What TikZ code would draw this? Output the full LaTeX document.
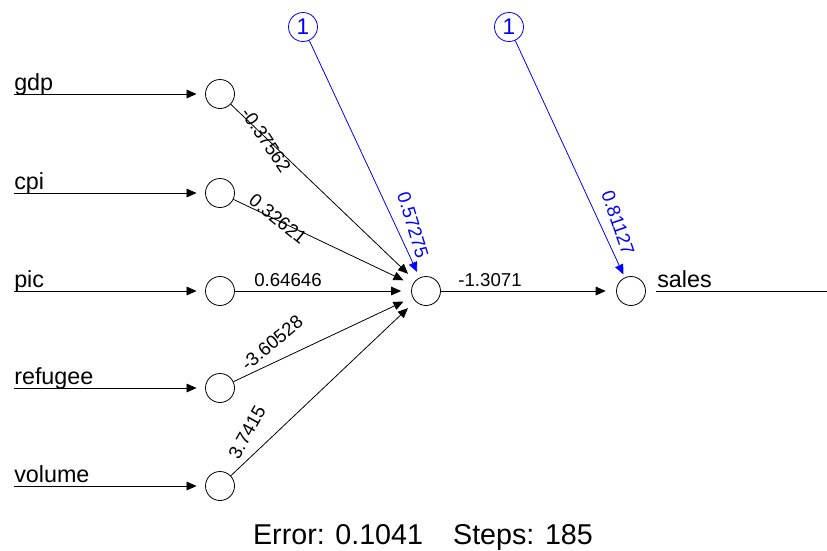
\documentclass[tikz,border=0pt]{standalone}
\usepackage{fontspec}
\setmainfont{Liberation Sans}
\usetikzlibrary{arrows.meta}
\definecolor{rblue}{RGB}{0,0,255}
\begin{document}
\begin{tikzpicture}[x=0.75pt,y=-0.75pt,
  neuron/.style={circle,draw=black,line width=0.6pt,minimum size=21.75pt,inner sep=0pt},
  biasnode/.style={circle,draw=rblue,line width=0.6pt,minimum size=21.75pt,inner sep=0pt,text=rblue,font=\fontsize{17}{17}\selectfont},
  conn/.style={draw=black,line width=0.6pt,-{Triangle[length=7.5pt,width=6.5pt]}},
  bconn/.style={draw=rblue,line width=0.6pt,-{Triangle[length=7.5pt,width=6.5pt]}},
  inlab/.style={anchor=base west,inner sep=0pt,font=\fontsize{17.5}{17.5}\selectfont},
  wlab/.style={inner sep=0pt,font=\fontsize{14}{14}\selectfont},
  blab/.style={inner sep=0pt,text=rblue,font=\fontsize{14}{14}\selectfont}]
\useasboundingbox (0,0) rectangle (827,550);
% input neurons
\node[neuron] (i1) at (220,94) {};
\node[neuron] (i2) at (220,193) {};
\node[neuron] (i3) at (220,291) {};
\node[neuron] (i4) at (220,388) {};
\node[neuron] (i5) at (220,486) {};
% hidden and output
\node[neuron] (h) at (426,291) {};
\node[neuron] (o) at (631,291) {};
% bias nodes
\node[biasnode] (b1) at (303,27) {1};
\node[biasnode] (b2) at (509,27) {1};
% input lines
\coordinate (s1) at (14,94);
\coordinate (s2) at (14,193);
\coordinate (s3) at (14,291);
\coordinate (s4) at (14,388);
\coordinate (s5) at (14,486);
\draw[conn,shorten >=6.4pt] (s1) -- (i1);
\draw[conn,shorten >=6.4pt] (s2) -- (i2);
\draw[conn,shorten >=6.4pt] (s3) -- (i3);
\draw[conn,shorten >=6.4pt] (s4) -- (i4);
\draw[conn,shorten >=6.4pt] (s5) -- (i5);
\node[inlab] (n1) at (14,90) {gdp};
\node[inlab] (n2) at (14,189) {cpi};
\node[inlab] (n3) at (14,287) {pic};
\node[inlab] (n4) at (14,384) {refugee};
\node[inlab] (n5) at (14,482) {volume};
% input to hidden
\draw[conn,shorten >=7.5pt] (i1) -- (h);
\draw[conn,shorten >=7.5pt] (i2) -- (h);
\draw[conn,shorten >=7.5pt] (i3) -- (h);
\draw[conn,shorten >=7.5pt] (i4) -- (h);
\draw[conn,shorten >=7.5pt] (i5) -- (h);
% hidden to output
\draw[conn,shorten >=7.8pt] (h) -- (o);
% bias edges
\draw[bconn,shorten >=4.5pt] (b1) -- (h);
\draw[bconn,shorten >=2.5pt] (b2) -- (o);
% output line
\coordinate (oe) at (827,291);
\draw[line width=0.6pt,shorten <=7.8pt] (o) -- (oe);
\node[inlab] (ns) at (657,287) {sales};
% weight labels
\node[wlab,rotate=-56] (w1) at (266,140) {-0.37562};
\node[wlab,rotate=-39] (w2) at (278,219) {0.32621};
\node[wlab] (w3) at (288,280) {0.64646};
\node[wlab,rotate=40] (w4) at (272,343) {-3.60528};
\node[wlab,rotate=61] (w5) at (247,432) {3.7415};
\node[wlab] (w6) at (490,280) {-1.3071};
\node[blab,rotate=-73] (w7) at (413,225) {0.57275};
\node[blab,rotate=-71] (w8) at (618,223) {0.81127};
% footer
\node[anchor=base,inner sep=0pt,font=\fontsize{21.5}{21.5}\selectfont] (err) at (423,544) {Error: 0.1041\hspace{1.05em}Steps: 185};
\end{tikzpicture}
\end{document}
